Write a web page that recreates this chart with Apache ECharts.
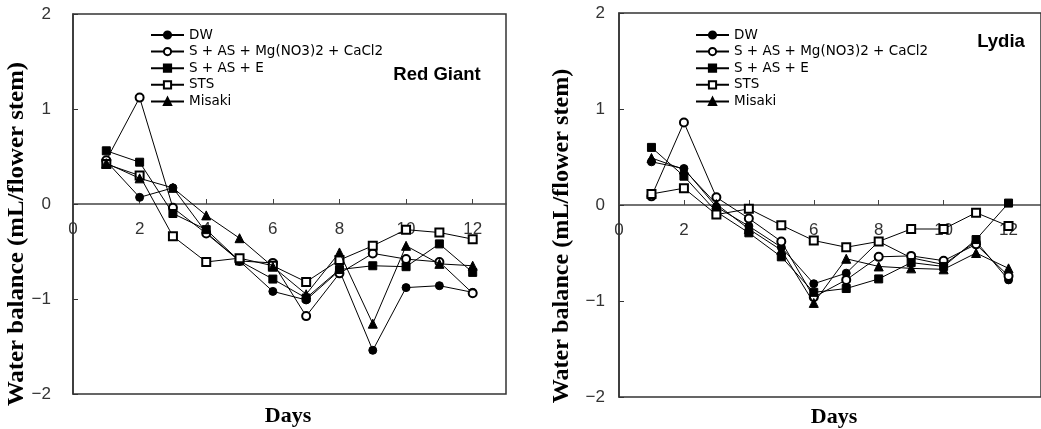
<!DOCTYPE html>
<html>
<head>
<meta charset="utf-8">
<script src="https://cdn.jsdelivr.net/npm/echarts@6/dist/echarts.min.js"></script>
<style>
  html, body { margin: 0; padding: 0; background: #fff; }
  #chart { width: 1041px; height: 429px; }
</style>
</head>
<body>
<div id="chart"></div>
<script>
// Days after treatment
const days = [1, 2, 3, 4, 5, 6, 7, 8, 9, 10, 11, 12];

// Treatment names (legend order)
const treatments = ['DW', 'S + AS + Mg(NO3)2 + CaCl2', 'S + AS + E', 'STS', 'Misaki'];

// Water balance (mL/flower stem) - 'Red Giant'
const redGiantDW   = [0.45, 0.07, 0.17, -0.30, -0.60, -0.92, -1.01, -0.70, -1.54, -0.88, -0.86, -0.93];
const redGiantSASMg = [0.46, 1.12, -0.04, -0.31, -0.60, -0.62, -1.18, -0.73, -0.52, -0.58, -0.61, -0.94];
const redGiantSASE = [0.56, 0.44, -0.10, -0.27, -0.60, -0.79, -0.99, -0.69, -0.65, -0.66, -0.42, -0.72];
const redGiantSTS  = [0.42, 0.30, -0.34, -0.61, -0.57, -0.65, -0.82, -0.59, -0.44, -0.27, -0.30, -0.37];
const redGiantMisaki = [0.43, 0.27, 0.17, -0.12, -0.36, -0.66, -0.95, -0.51, -1.26, -0.44, -0.63, -0.65];

// Water balance (mL/flower stem) - 'Lydia'
const lydiaDW   = [0.45, 0.38, -0.02, -0.22, -0.44, -0.82, -0.71, -0.38, -0.55, -0.62, -0.38, -0.78];
const lydiaSASMg = [0.09, 0.86, 0.08, -0.14, -0.38, -0.96, -0.78, -0.54, -0.53, -0.58, -0.41, -0.74];
const lydiaSASE = [0.60, 0.30, -0.07, -0.29, -0.54, -0.91, -0.87, -0.77, -0.60, -0.64, -0.36, 0.02];
const lydiaSTS  = [0.115, 0.175, -0.10, -0.04, -0.21, -0.37, -0.44, -0.38, -0.25, -0.25, -0.08, -0.22];
const lydiaMisaki = [0.49, 0.37, 0.01, -0.25, -0.47, -1.02, -0.56, -0.64, -0.66, -0.67, -0.50, -0.66];

// Axis ticks
const xTicks = [0, 2, 4, 6, 8, 10, 12];
const yTicks = [-2, -1, 0, 1, 2];

const panels = [
  { label: 'Red Giant', values: [redGiantDW, redGiantSASMg, redGiantSASE, redGiantSTS, redGiantMisaki] },
  { label: 'Lydia', values: [lydiaDW, lydiaSASMg, lydiaSASE, lydiaSTS, lydiaMisaki] }
];

const symbols = ['circle', 'emptyCircle', 'rect', 'emptyRect', 'triangle'];
const symbolSizes = [8, 8, 8, 8, 9];

const tickFont = { fontFamily: 'Liberation Sans', fontSize: 17, color: '#333' };
const minus = v => String(v).replace('-', '\u2212');

const grids = [
  { left: 73, top: 14, width: 433, height: 380 },
  { left: 619, top: 13, width: 430, height: 384 }
];

const yLabelMargins = [22, 14];
const yMin = -2, yMax = 2;

// the day axis runs along the zero line, half way up each frame
const xAxes = grids.map((g, i) => ({
  type: 'value', gridIndex: i, min: 0, max: 13, interval: 2,
  position: 'bottom',
  offset: -g.height * (0 - yMin) / (yMax - yMin),
  axisLine: { onZero: false, lineStyle: { color: '#444', width: 1.5 } },
  axisTick: { inside: true, length: 5, lineStyle: { color: '#444' }, customValues: xTicks },
  axisLabel: Object.assign({ margin: 17, customValues: xTicks, formatter: minus }, tickFont),
  splitLine: { show: false }
}));

const yAxes = grids.map((g, i) => ({
  type: 'value', gridIndex: i, min: yMin, max: yMax, interval: 1,
  axisLine: { show: true, onZero: false, lineStyle: { color: '#333', width: 1.5 } },
  axisTick: { inside: true, length: 5, lineStyle: { color: '#333' }, customValues: yTicks },
  axisLabel: Object.assign({ margin: yLabelMargins[i], customValues: yTicks, formatter: minus }, tickFont),
  splitLine: { show: false }
}));

const series = [];
panels.forEach((p, pi) => {
  p.values.forEach((vals, si) => {
    series.push({
      name: treatments[si],
      type: 'line',
      xAxisIndex: pi, yAxisIndex: pi,
      data: days.map((d, k) => [d, vals[k]]),
      symbol: symbols[si],
      symbolSize: symbolSizes[si],
      showAllSymbol: true,
      color: '#000',
      lineStyle: { color: '#000', width: 1 },
      itemStyle: { color: '#000', borderColor: '#000', borderWidth: 1 },
      emphasis: { disabled: true },
      animation: false,
      z: 2 + si
    });
  });
});

const legendBase = {
  orient: 'vertical', itemWidth: 33, itemHeight: 9, itemGap: 2.6,
  selectedMode: false, data: treatments,
  textStyle: { fontFamily: 'DejaVu Sans', fontSize: 13.5, lineHeight: 14, color: '#000' }
};

const titleFont = 'bold 23px "Liberation Serif"';
const daysFont = 'bold 22px "Liberation Serif"';

const option = {
  backgroundColor: '#fff',
  animation: false,
  grid: grids.map(g => Object.assign({ show: true, borderColor: '#333', borderWidth: 1.5, backgroundColor: 'transparent', containLabel: false }, g)),
  xAxis: xAxes,
  yAxis: yAxes,
  legend: [
    Object.assign({ left: 145, top: 23 }, legendBase),
    Object.assign({ left: 690, top: 23 }, legendBase)
  ],
  graphic: [
    { type: 'text', x: 437, y: 75, style: { text: panels[0].label, font: 'bold 18.5px "Liberation Sans"', fill: '#000', align: 'center', verticalAlign: 'middle' } },
    { type: 'text', x: 1001, y: 42, style: { text: panels[1].label, font: 'bold 18.5px "Liberation Sans"', fill: '#000', align: 'center', verticalAlign: 'middle' } },
    { type: 'text', x: 17, y: 234, rotation: Math.PI / 2, scaleX: 1.08, style: { text: 'Water balance (mL/flower stem)', font: titleFont, fill: '#000', align: 'center', verticalAlign: 'middle' } },
    { type: 'text', x: 562, y: 236, rotation: Math.PI / 2, scaleX: 1.05, style: { text: 'Water balance (mL/flower stem)', font: titleFont, fill: '#000', align: 'center', verticalAlign: 'middle' } },
    { type: 'text', x: 288, y: 416, style: { text: 'Days', font: daysFont, fill: '#000', align: 'center', verticalAlign: 'middle' } },
    { type: 'text', x: 834, y: 417, style: { text: 'Days', font: daysFont, fill: '#000', align: 'center', verticalAlign: 'middle' } }
  ],
  series: series
};

const chart = echarts.init(document.getElementById('chart'), null, { renderer: 'canvas' });
chart.setOption(option);
</script>
</body>
</html>
